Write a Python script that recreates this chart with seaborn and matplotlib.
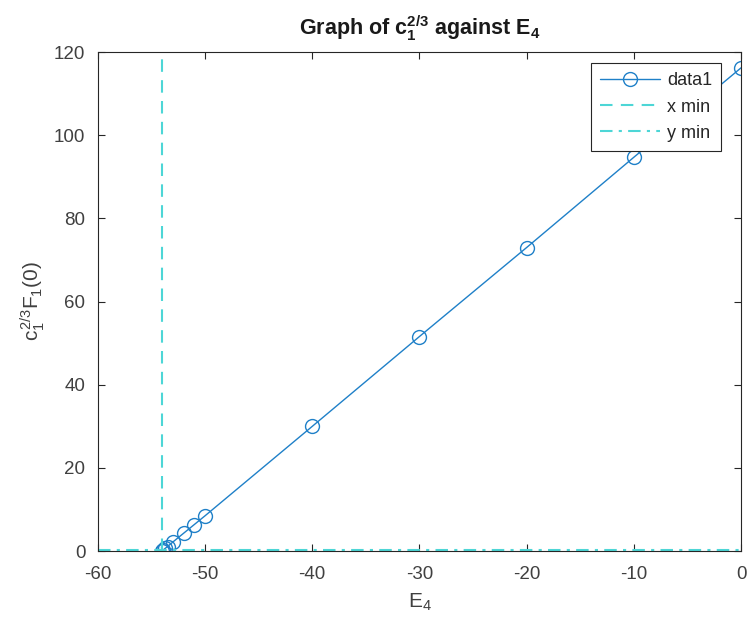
import matplotlib
matplotlib.use("Agg")
import matplotlib.pyplot as plt
import seaborn as sns
import pandas as pd

# Data
e4 = [-54.0, -53.9, -53.7, -53.5, -53.0, -52.0, -51.0, -50.0, -40.0, -30.0, -20.0, -10.0, 0.0]
c23f = [0.05, 0.3, 0.7, 1.1, 2.2, 4.3, 6.4, 8.5, 30.0, 51.6, 73.0, 94.7, 116.2]
x_min = -54.0
y_min = 0.3
xticks = [-60, -50, -40, -30, -20, -10, 0]
yticks = [0, 20, 40, 60, 80, 100, 120]

sns.set_theme(style="ticks")
plt.rcParams['font.family'] = ['Liberation Sans', 'DejaVu Sans']
plt.rcParams['mathtext.fontset'] = 'custom'
plt.rcParams['mathtext.rm'] = 'Liberation Sans'
plt.rcParams['mathtext.it'] = 'Liberation Sans'
plt.rcParams['mathtext.bf'] = 'Liberation Sans:bold'

df = pd.DataFrame({"E4": e4, "val": c23f})

fig = plt.figure(figsize=(7.47, 6.27), dpi=100)
ax = fig.add_axes([0.131, 0.121, 0.861, 0.796])

blue = '#1f80c8'
cyan = '#4DD6D6'
sns.lineplot(data=df, x="E4", y="val", ax=ax, color=blue, lw=1.0,
             marker='o', markersize=10, markerfacecolor='none',
             markeredgecolor=blue, markeredgewidth=1.0, label='data1', sort=False)
ax.axvline(x_min, color=cyan, lw=1.5, ls=(0, (6, 4)), label='x min')
ax.axhline(y_min, color=cyan, lw=1.5, ls=(0, (6, 3, 1.5, 3)), label='y min')

ax.set_xlim(-60, 0)
ax.set_ylim(0, 120)
ax.set_xticks(xticks)
ax.set_yticks(yticks)
ax.set_xticklabels([str(t) for t in xticks])
ax.set_yticklabels([str(t) for t in yticks])

tc = '#262626'
ax.tick_params(direction='in', length=5, width=0.8, colors=tc, labelsize=13.5,
               top=True, right=True, labelcolor='#404040')
ax.tick_params(axis='x', pad=11)
ax.tick_params(axis='y', pad=9)
for s in ax.spines.values():
    s.set_visible(True)
    s.set_color(tc)
    s.set_linewidth(0.8)

ax.set_xlabel(r'E$_4$', fontsize=15, color='#404040', labelpad=6)
ax.set_ylabel(r'$c_1^{2/3}F_1(0)$', fontsize=15, color='#404040', labelpad=5)
ax.set_title(r'Graph of $\mathbf{c_1^{2/3}}$ against $\mathbf{E_4}$', fontsize=15.5,
             fontweight='bold', color='#1a1a1a', pad=12)

leg = ax.legend(loc='upper right', bbox_to_anchor=(0.978, 0.988), fancybox=False,
                framealpha=1, edgecolor='#262626', fontsize=13, handlelength=3.3,
                borderaxespad=0.3, labelspacing=0.5, markerfirst=True,
                borderpad=0.5, handletextpad=0.4)
leg.get_frame().set_linewidth(0.8)
for t in leg.get_texts():
    t.set_color('#262626')

fig.savefig('out.png', dpi=100)
